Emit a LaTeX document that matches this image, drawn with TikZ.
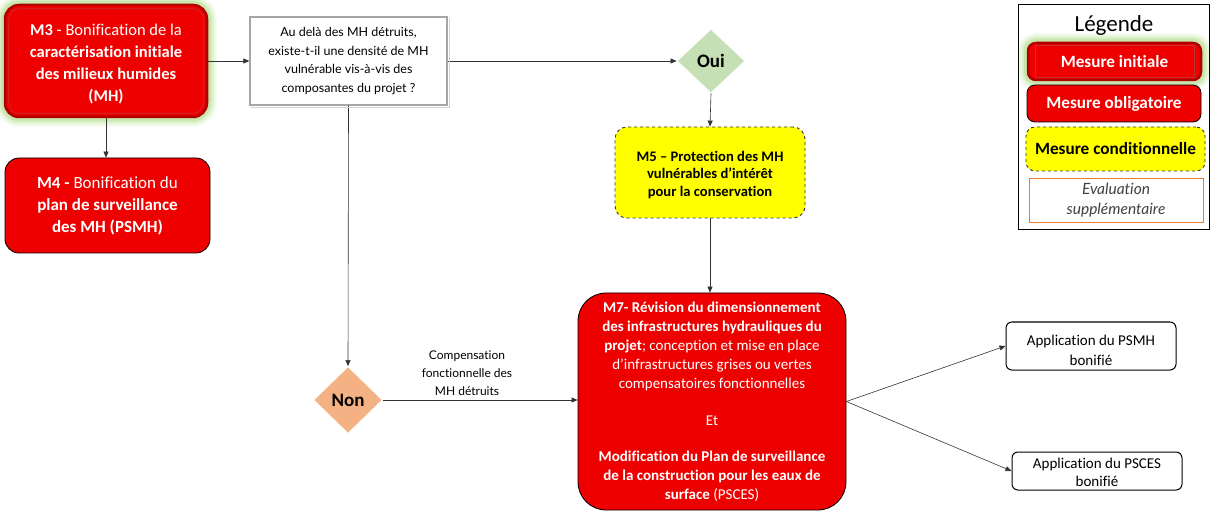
\documentclass[tikz,border=0pt]{standalone}
\usepackage{fontspec}
\setmainfont{Carlito}[Ligatures=NoCommon]
\newfontfamily\aptos{Lato}[Ligatures=NoCommon]
\usetikzlibrary{shapes.geometric,arrows.meta,backgrounds}

\definecolor{mred}{HTML}{EE0000}
\definecolor{bevel}{HTML}{B00000}
\definecolor{glowgreen}{RGB}{150,210,100}
\definecolor{ouigreen}{RGB}{197,224,180}
\definecolor{nonorange}{RGB}{244,177,131}
\definecolor{condyellow}{HTML}{FFFF00}
\definecolor{evalorange}{HTML}{ED7D31}
\definecolor{qgray}{HTML}{A6A6A6}

\tikzset{
  link/.style={draw=black!80, line width=0.6pt, -{Triangle[length=6pt,width=5pt]}},
  redbox/.style={draw=black, line width=0.8pt, fill=mred, rounded corners=14pt,
    text=white, align=center, inner sep=0pt},
  initbox/.style={redbox, draw=bevel, line width=2.5pt},
  condbox/.style={draw=black!80, dashed, line width=0.9pt, fill=condyellow,
    rounded corners=12pt, align=center, inner sep=0pt},
  appbox/.style={draw=black, line width=1pt, rounded corners=6pt, align=center,
    inner sep=0pt},
  apptext/.style={align=center, inner sep=0pt, font=\fontsize{15}{20}\selectfont},
  choice/.style={diamond, draw=white, line width=0.8pt, inner sep=0pt,
    font=\fontsize{19}{20}\selectfont\bfseries},
  legfont/.style={font=\fontsize{17.2}{20}\selectfont\bfseries},
}

\begin{document}
\begin{tikzpicture}[x=1pt,y=-1pt]
\useasboundingbox (0,0) rectangle (1211,513);

% --- main flow ---
\node[initbox, minimum width=202pt, minimum height=112pt] (m3) at (106,61) {};
\node[align=center, text=white, inner sep=0pt,
      font=\fontsize{16.5}{22}\selectfont] (m3t) at ([yshift=-3.5pt]m3.center)
  {\textbf{M3} - Bonification de la\\ \textbf{caractérisation initiale}\\
   \textbf{des milieux humides}\\ \textbf{(MH)}};

\node[redbox, minimum width=205pt, minimum height=95pt,
      font=\fontsize{17}{22}\selectfont] (m4) at (107.5,205.5)
  {\textbf{M4 -} Bonification du\\ \textbf{plan de surveillance}\\ \textbf{des MH (PSMH)}};

\node[draw=qgray, line width=1.3pt, minimum width=197pt, minimum height=88pt,
      inner sep=0pt, align=center, font=\aptos\fontsize{12.5}{18.5}\selectfont] (q) at (348.5,61)
  {Au delà des MH détruits,\\ existe-t-il une densité de MH\\
   vulnérable vis-à-vis des\\ composantes du projet ?};

\node[choice, fill=ouigreen, minimum width=68pt, minimum height=64pt] (oui) at (711,61) {Oui};

\node[condbox, minimum width=190pt, minimum height=91pt] (m5) at (710,172.5) {};
\node[align=center, inner sep=0pt, font=\fontsize{14.6}{17.8}\selectfont\bfseries]
  (m5t) at ([yshift=-2.5pt]m5.center)
  {M5 – Protection des MH\\ vulnérables d’intérêt\\ pour la conservation};

\node[choice, fill=nonorange, minimum width=69pt, minimum height=67pt] (non) at (348,400) {Non};

\node[redbox, rounded corners=28pt, minimum width=268pt, minimum height=217pt,
      font=\fontsize{15}{19}\selectfont] (m7) at (712,401.5)
  {\textbf{M7- Révision du dimensionnement}\\
   \textbf{des infrastructures hydrauliques du}\\
   \textbf{projet}; conception et mise en place\\
   d’infrastructures grises ou vertes\\
   compensatoires fonctionnelles\\[18pt]
   Et\\[17pt]
   \textbf{Modification du Plan de surveillance}\\
   \textbf{de la construction pour les eaux de}\\
   \textbf{surface} (PSCES)};

\node[appbox, minimum width=170pt, minimum height=48pt] (psmh) at (1091,346) {};
\node[apptext] (psmht) at ([yshift=-4pt]psmh.center) {Application du PSMH\\ bonifié};
\node[appbox, minimum width=170pt, minimum height=38pt] (psces) at (1097,471) {};
\node[apptext, font=\fontsize{15}{18}\selectfont] (pscest) at ([yshift=-1pt]psces.center)
  {Application du PSCES\\ bonifié};

\node[align=center, font=\aptos\fontsize{12}{18}\selectfont] (comp) at (467,373)
  {Compensation\\ fonctionnelle des\\ MH détruits};

% --- connectors ---
\draw[link] (m3.east) -- (q.west);
\draw[link] (m3.south) -- (m3.south |- m4.north);
\draw[link] (q.east) -- (oui.west);
\draw[link] (oui.south) -- (m5.north);
\draw[link] (m5.south) -- (m5.south |- m7.north);
\draw[link] (q.south) -- (non.north);
\draw[link] (non.east) -- (non.east -| m7.west);
\draw[link] (m7.east) -- (psmh.west);
\draw[link] (m7.east) -- (psces.west);

% --- legend ---
\node[draw=black, line width=1pt, minimum width=191pt, minimum height=225pt,
      inner sep=0pt] (leg) at (1113.5,117.5) {};
\node[font=\fontsize{23}{26}\selectfont] (legtitle) at (1114,25) {Légende};
\node[initbox, rounded corners=8pt, minimum width=173pt, minimum height=37pt,
      legfont] (li) at (1114.5,61.5) {Mesure initiale};
\node[redbox, rounded corners=8pt, minimum width=174pt, minimum height=37pt,
      legfont] (lo) at (1114,103.5) {Mesure obligatoire};
\node[condbox, rounded corners=9pt, minimum width=179pt, minimum height=44pt,
      legfont] (lc) at (1115.5,149) {Mesure conditionnelle};
\node[draw=evalorange, line width=0.8pt, minimum width=174pt, minimum height=44pt,
      inner sep=0pt, align=center, text=black!75,
      font=\aptos\fontsize{15.5}{20}\selectfont\itshape] (le) at (1116,200)
  {Evaluation\\ supplémentaire};

% --- glow and bevel of the initial measures ---
\begin{scope}[on background layer]
  \foreach \w/\o in {18/0.08, 14/0.12, 10/0.18, 6/0.3} {
    \draw[glowgreen, line width=\w pt, opacity=\o, rounded corners=16pt]
      (m3.north west) rectangle (m3.south east);
    \draw[glowgreen, line width=\w pt, opacity=\o, rounded corners=9pt]
      (li.north west) rectangle (li.south east);
  }
\end{scope}
\draw[bevel!80, line width=0.6pt, rounded corners=10pt]
  ([shift={(5pt,-5pt)}]m3.north west) rectangle ([shift={(-5pt,5pt)}]m3.south east);
\draw[bevel!80, line width=0.5pt]
  ([shift={(8pt,-4pt)}]li.north west) rectangle ([shift={(-8pt,4pt)}]li.south east);
\draw[qgray!50, line width=0.8pt]
  ([shift={(2pt,-2pt)}]q.south west) -- ([shift={(2pt,-2pt)}]q.south east)
  -- ([shift={(2pt,-2pt)}]q.north east);
\end{tikzpicture}
\end{document}
